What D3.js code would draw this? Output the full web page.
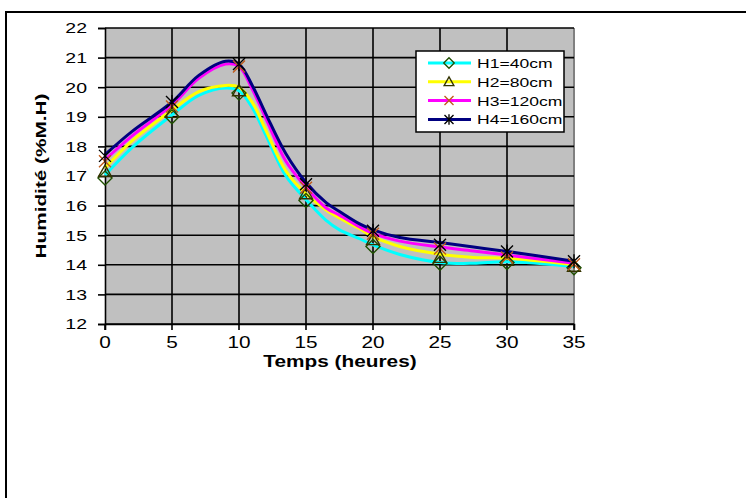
<!DOCTYPE html>
<html><head><meta charset="utf-8">
<script src="https://cdn.jsdelivr.net/npm/d3@7"></script>
<style>body{margin:0;background:#fff}svg{display:block;font-family:"Liberation Sans",Arial,sans-serif}</style>
</head><body><svg id="c" width="746" height="498"></svg>
<script>
// ---- data ----
const seriesNames = ["H1=40cm", "H2=80cm", "H3=120cm", "H4=160cm"];
const hoursLine = [0, 2, 5, 7, 9, 10, 11, 12, 13.5, 15, 16.5, 17.5, 19, 20, 22, 25, 27.5, 30, 35];
const h1Line = [17.03, 17.95, 19.06, 19.72, 19.97, 19.88, 19.3, 18.38, 17.0, 16.2, 15.5, 15.18, 14.88, 14.67, 14.35, 14.08, 14.05, 14.1, 13.94];
const h2Line = [17.27, 18.18, 19.23, 19.85, 20.06, 20.0, 19.48, 18.55, 17.17, 16.4, 15.85, 15.58, 15.22, 14.95, 14.62, 14.36, 14.25, 14.22, 14.0];
const h3Line = [17.55, 18.35, 19.4, 20.3, 20.78, 20.7, 19.92, 18.95, 17.5, 16.62, 15.92, 15.68, 15.28, 15.06, 14.8, 14.6, 14.47, 14.33, 14.05];
const h4Line = [17.72, 18.5, 19.5, 20.4, 20.88, 20.78, 20.05, 19.1, 17.75, 16.78, 16.1, 15.8, 15.38, 15.18, 14.92, 14.75, 14.6, 14.45, 14.12];
const hoursMark = [0, 5, 10, 15, 20, 25, 30, 35];
const h1Mark = [16.93, 19.0, 19.8, 16.17, 14.62, 14.05, 14.08, 13.9];
const h2Mark = [17.15, 19.15, 19.88, 16.4, 14.85, 14.25, 14.15, 13.95];
const h3Mark = [17.5, 19.35, 20.7, 16.6, 15.05, 14.55, 14.25, 14.02];
const h4Mark = [17.68, 19.5, 20.78, 16.72, 15.15, 14.68, 14.45, 14.12];
const xTicks = [0, 5, 10, 15, 20, 25, 30, 35];
const yTicks = [12, 13, 14, 15, 16, 17, 18, 19, 20, 21, 22];
const xTitle = "Temps (heures)";
const yTitle = "Humidité (%M.H)";

// ---- layout ----
const svg = d3.select("#c");
const L = 105, R = 574, T = 28, B = 324;
const SX = 1.3; // horizontal text stretch
const x = d3.scaleLinear().domain([0, 35]).range([L, R]);
const y = d3.scaleLinear().domain([12, 22]).range([B, T]);

// outer frame (top & left visible)
svg.append("path").attr("d", `M6,498 V12 H746`).attr("fill", "none").attr("stroke", "#000").attr("stroke-width", 2);

// plot background
svg.append("rect").attr("x", L).attr("y", T).attr("width", R - L).attr("height", B - T).attr("fill", "#c0c0c0");
svg.append("line").attr("x1", R).attr("x2", R).attr("y1", T).attr("y2", B).attr("stroke", "#808080").attr("stroke-width", 2);

// grid
svg.append("g").selectAll("line").data(yTicks).join("line")
  .attr("x1", L).attr("x2", R).attr("y1", d => y(d)).attr("y2", d => y(d))
  .attr("stroke", "#000").attr("stroke-width", 1.6);
svg.append("g").selectAll("line").data(xTicks.slice(1, -1)).join("line")
  .attr("x1", d => x(d)).attr("x2", d => x(d)).attr("y1", T).attr("y2", B)
  .attr("stroke", "#000").attr("stroke-width", 1.6);

// axes
const ya = svg.append("g").attr("transform", `translate(${L},0)`)
  .call(d3.axisLeft(y).tickValues(yTicks).tickSize(7).tickPadding(18).tickFormat(d3.format("d")));
ya.select(".domain").attr("stroke-width", 1.6);
ya.selectAll(".tick line").attr("stroke-width", 1.6);
ya.selectAll("text").attr("font-size", 15).attr("font-family", "Liberation Sans, Arial")
  .attr("transform", `scale(${SX},1)`).attr("x", -18 / SX).attr("fill", "#000");

const xa = svg.append("g").attr("transform", `translate(0,${B})`)
  .call(d3.axisBottom(x).tickValues(xTicks).tickSize(6).tickFormat(d3.format("d")));
xa.select(".domain").attr("stroke-width", 1.6);
xa.selectAll(".tick line").attr("stroke-width", 1.6);
xa.selectAll(".tick text").attr("font-size", 16).attr("font-family", "Liberation Sans, Arial")
  .attr("transform", `scale(${SX},1)`).attr("y", 24).attr("dy", 0).attr("fill", "#000");
// fix horizontal positions after scaling
xa.selectAll(".tick").each(function (d) {
  d3.select(this).attr("transform", `translate(${x(d)},0)`);
});

// titles
svg.append("text").attr("transform", `translate(340,367) scale(${SX},1)`)
  .attr("text-anchor", "middle").attr("font-weight", "bold").attr("font-size", 16).text(xTitle);
svg.append("text").attr("transform", `translate(46,${(T + B) / 2}) rotate(-90)`)
  .attr("text-anchor", "middle").attr("font-weight", "bold").attr("font-size", 15)
  .attr("textLength", 165).attr("lengthAdjust", "spacingAndGlyphs").text(yTitle);

// series
const lineColors = ["#00ffff", "#ffff00", "#ff00ff", "#000080"];
const lines = [h1Line, h2Line, h3Line, h4Line];
const marks = [h1Mark, h2Mark, h3Mark, h4Mark];
const markColors = ["#1f4f00", "#333300", "#c05a1a", "#000000"];
const markPaths = [
  "M0,-7L7,0L0,7L-7,0Z",
  "M0,-6.5L6.5,5L-6.5,5Z",
  "M-6,-6L6,6M-6,6L6,-6",
  "M-6,-6L6,6M-6,6L6,-6M0,-7V7"
];
const lineGen = d3.line().x(d => x(d[0])).y(d => y(d[1])).curve(d3.curveCatmullRom.alpha(0.5));

const plotG = svg.append("g");
lines.forEach((vals, i) => {
  plotG.append("path").datum(hoursLine.map((h, j) => [h, vals[j]]))
    .attr("d", lineGen).attr("fill", "none").attr("stroke", lineColors[i]).attr("stroke-width", 3)
    .attr("stroke-linejoin", "round");
});
marks.forEach((vals, i) => {
  plotG.append("g").selectAll("path").data(hoursMark.map((h, j) => [h, vals[j]])).join("path")
    .attr("transform", d => `translate(${x(d[0])},${y(d[1])})`)
    .attr("d", markPaths[i]).attr("fill", "none").attr("stroke", markColors[i]).attr("stroke-width", 1.4);
});

// legend
const lg = svg.append("g");
lg.append("rect").attr("x", 416).attr("y", 51).attr("width", 148).attr("height", 81)
  .attr("fill", "#fff").attr("stroke", "#000").attr("stroke-width", 1.5);
seriesNames.forEach((name, i) => {
  const cy = 63 + i * 18.8;
  lg.append("line").attr("x1", 428).attr("x2", 471).attr("y1", cy).attr("y2", cy)
    .attr("stroke", lineColors[i]).attr("stroke-width", 3);
  lg.append("path").attr("transform", `translate(449,${cy}) scale(0.75)`).attr("d", markPaths[i])
    .attr("fill", "none").attr("stroke", markColors[i]).attr("stroke-width", 1.8);
  lg.append("text").attr("transform", `translate(477,${cy + 5}) scale(${SX},1)`)
    .attr("font-size", 13.5).text(name);
});
</script></body></html>
